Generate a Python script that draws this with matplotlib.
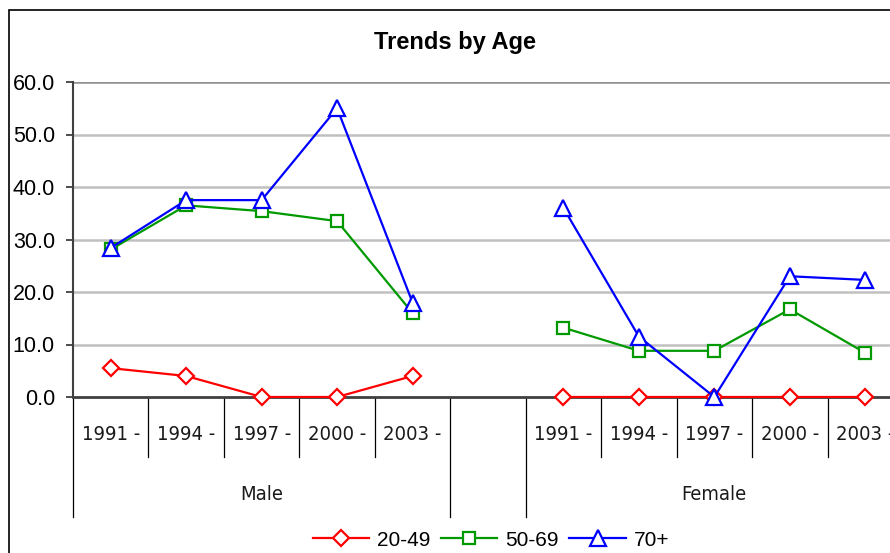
import matplotlib
matplotlib.use("Agg")
import matplotlib.pyplot as plt
import matplotlib.transforms as mtransforms
from matplotlib.patches import Rectangle
from matplotlib import font_manager

# data
years = ["1991 -", "1994 -", "1997 -", "2000 -", "2003 -"]
groups = ["Male", "Female"]
age_20_49_male = [5.5, 4.0, 0.0, 0.0, 4.0]
age_20_49_female = [0.0, 0.0, 0.0, 0.0, 0.0]
age_50_69_male = [28.1, 36.5, 35.4, 33.5, 16.0]
age_50_69_female = [13.2, 8.8, 8.8, 16.7, 8.4]
age_70_male = [28.4, 37.5, 37.5, 55.0, 18.0]
age_70_female = [36.0, 11.5, 0.0, 23.0, 22.3]
series_names = ["20-49", "50-69", "70+"]

plt.rcParams["font.family"] = ["Liberation Sans", "DejaVu Sans"]

# look for a narrow face for the category labels
installed = {(f.name, f.stretch) for f in font_manager.fontManager.ttflist}
names = {n for n, _ in installed}
if "Liberation Sans Narrow" in names:
    narrow = dict(family=["Liberation Sans Narrow", "DejaVu Sans"])
elif any(n == "DejaVu Sans" and s == "condensed" for n, s in installed):
    narrow = dict(family=["DejaVu Sans"], stretch="condensed")
else:
    narrow = dict(family=["Liberation Sans", "DejaVu Sans"])

fig = plt.figure(figsize=(8.9, 5.53), dpi=100)
ax = fig.add_axes([73 / 890, 156 / 553, 830 / 890, 315 / 553])

# 11 category slots: 5 male, one empty, 5 female
male_x = list(range(0, 5))
female_x = list(range(6, 11))

styles = [
    ("#ff0000", "D", 8, age_20_49_male, age_20_49_female),
    ("#009900", "s", 9, age_50_69_male, age_50_69_female),
    ("#0000ff", "^", 11, age_70_male, age_70_female),
]
handles = []
for (col, mk, ms, m_vals, f_vals), name in zip(styles, series_names):
    h, = ax.plot(male_x, m_vals, color=col, marker=mk, markersize=ms,
                 markerfacecolor="white", markeredgecolor=col, markeredgewidth=1.6,
                 linewidth=1.6, clip_on=False, zorder=5, label=name)
    ax.plot(female_x, f_vals, color=col, marker=mk, markersize=ms,
            markerfacecolor="white", markeredgecolor=col, markeredgewidth=1.6,
            linewidth=1.6, clip_on=False, zorder=5)
    handles.append(h)

ax.set_xlim(-0.5, 10.5)
ax.set_ylim(0, 60)
ax.set_yticks(range(0, 61, 10))
ax.set_yticklabels([f"{v:.1f}" for v in range(0, 61, 10)], fontsize=15.5)
ax.tick_params(axis="y", direction="out", length=5, width=1.3, color="#404040", pad=8)
ax.set_xticks([])
for v in range(10, 61, 10):
    ax.axhline(v, color="#c0c0c0" if v < 60 else "#909090", linewidth=1.8, zorder=1)

for s in ["top", "right"]:
    ax.spines[s].set_visible(False)
ax.spines["left"].set_color("#404040")
ax.spines["left"].set_linewidth(1.5)
ax.spines["bottom"].set_color("#404040")
ax.spines["bottom"].set_linewidth(2)

# multi-level category axis drawn below
trans = mtransforms.blended_transform_factory(ax.transData, fig.transFigure)
short_bot = (553 - 457) / 553
long_bot = (553 - 517) / 553
zero_y = 156 / 553
for b in [0.5, 1.5, 2.5, 3.5, 6.5, 7.5, 8.5, 9.5]:
    ax.plot([b, b], [zero_y, short_bot], color="black", linewidth=0.9,
            transform=trans, clip_on=False)
for b in [-0.5, 4.5, 5.5, 10.5]:
    ax.plot([b, b], [zero_y, long_bot], color="black", linewidth=0.9,
            transform=trans, clip_on=False)

year_y = (553 - 435) / 553
for xs in (male_x, female_x):
    for x, lab in zip(xs, years):
        ax.text(x, year_y, lab, transform=trans, ha="center", va="center",
                fontsize=14.5, color="#1a1a1a", **narrow)
group_y = (553 - 495) / 553
ax.text(2, group_y, groups[0], transform=trans, ha="center", va="center",
        fontsize=14.5, color="#1a1a1a", **narrow)
ax.text(8, group_y, groups[1], transform=trans, ha="center", va="center",
        fontsize=14.5, color="#1a1a1a", **narrow)

fig.text(455 / 890, (553 - 42) / 553, "Trends by Age", ha="center", va="center",
         fontsize=17, fontweight="bold")

fig.legend(handles=handles, loc="center", bbox_to_anchor=(491 / 890, 13 / 553),
           ncol=3, frameon=False, fontsize=15, handlelength=2.7,
           handletextpad=0.4, columnspacing=0.5, borderaxespad=0, borderpad=0)

fig.patches.append(Rectangle((9 / 890, -0.1), 1.2, (553 - 10) / 553 + 0.1,
                             transform=fig.transFigure, fill=False,
                             edgecolor="black", linewidth=1.2))

fig.savefig("out.png", dpi=100)
